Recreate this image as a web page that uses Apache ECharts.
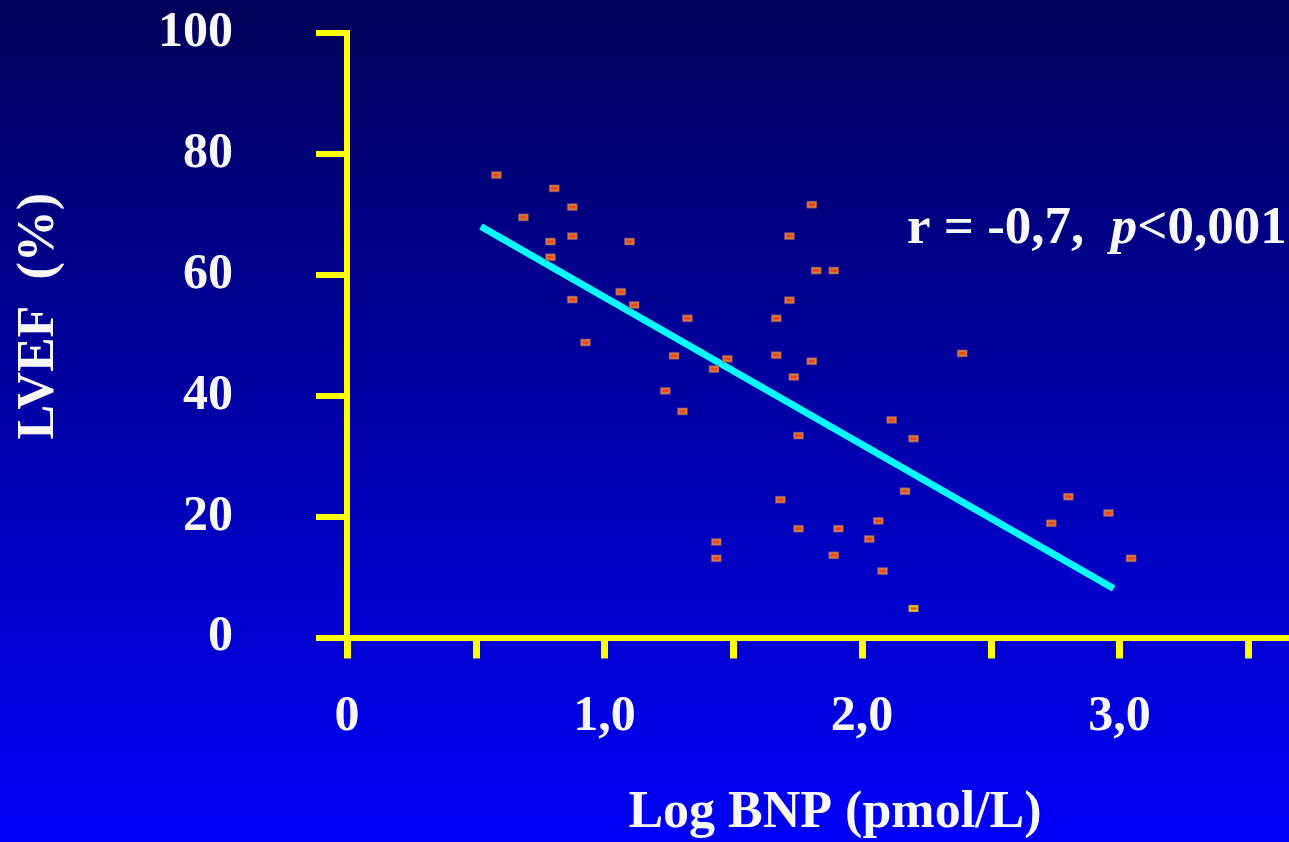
<!DOCTYPE html>
<html>
<head>
<meta charset="utf-8">
<script src="https://cdn.jsdelivr.net/npm/echarts@6/dist/echarts.min.js"></script>
<style>
  html, body { margin: 0; padding: 0; width: 1289px; height: 842px; overflow: hidden; background: #0000a0; }
  #chart { width: 1289px; height: 842px; }
</style>
</head>
<body>
<div id="chart"></div>
<script>
// ---- data ----
const bnpLog = [0.580, 0.805, 0.685, 0.875, 0.790, 0.875, 1.097, 0.790, 1.063, 1.115,
                0.875, 0.926, 1.270, 1.805, 1.718, 1.822, 1.890, 1.718, 1.322, 1.667,
                1.477, 1.425, 1.667, 1.805, 1.735, 2.389, 1.236, 1.303, 2.115, 2.200,
                1.753, 1.683, 2.167, 2.063, 1.753, 1.908, 2.028, 1.434, 1.434, 1.890,
                2.080, 2.200, 2.801, 2.957, 2.735, 3.045];
const lvef = [76.5, 74.3, 69.5, 71.2, 65.5, 66.4, 65.5, 62.9, 57.2, 55.0,
              55.9, 48.8, 46.6, 71.6, 66.4, 60.7, 60.7, 55.8, 52.8, 52.8,
              46.1, 44.4, 46.7, 45.7, 43.1, 47.0, 40.8, 37.4, 36.0, 32.9,
              33.4, 22.8, 24.2, 19.3, 18.0, 18.0, 16.3, 15.8, 13.1, 13.6,
              11.0, 4.8, 23.3, 20.6, 18.9, 13.1];
const fitX = [0.52, 2.977];
const fitY = [68.0, 8.1];
const xTickValues = [0, 0.5, 1.0, 1.5, 2.0, 2.5, 3.0, 3.5];
const xLabelValues = [0, 1, 2, 3];
const xLabelTexts = ['0', '1,0', '2,0', '3,0'];
const yLabelTexts = ['0', '20', '40', '60', '80', '100'];
const xName = 'Log BNP (pmol/L)';
const yName = 'LVEF  (%)';
const statR = 'r = -0,7,  ';
const statP = 'p';
const statRest = '<0,001';
const highlightedPoint = 41;

// ---- chart ----
const FONT = '"Liberation Serif", "Times New Roman", serif';
const YELLOW = '#ffff00';
const chart = echarts.init(document.getElementById('chart'));

const outerData = bnpLog.map((x, i) => {
  const item = { value: [x, lvef[i]] };
  if (i === highlightedPoint) item.itemStyle = { color: YELLOW };
  return item;
});
const innerData = bnpLog.map((x, i) => [x, lvef[i]]);
const fitData = fitX.map((x, i) => [x, fitY[i]]);

chart.setOption({
  animation: false,
  backgroundColor: new echarts.graphic.LinearGradient(0, 0, 0, 1, [
    { offset: 0, color: '#000058' },
    { offset: 1, color: '#0000fa' }
  ]),
  title: {
    left: 907, top: 203, padding: 0,
    text: '{r|' + statR + '}{p|' + statP + '}{r|' + statRest + '}',
    textStyle: {
      rich: {
        r: { fontFamily: FONT, fontWeight: 'bold', fontSize: 53, color: '#f8f8f8' },
        p: { fontFamily: FONT, fontWeight: 'bold', fontStyle: 'italic', fontSize: 53, color: '#f8f8f8' }
      }
    }
  },
  grid: { left: 347, right: 0, top: 33, bottom: 204.5, outerBoundsMode: 'none', containLabel: false },
  xAxis: {
    type: 'value', min: 0, max: 3.658,
    name: xName, nameLocation: 'middle', nameGap: 150,
    nameTextStyle: { fontFamily: FONT, fontWeight: 'bold', fontSize: 52, color: '#f8f8f8', padding: [0, 0, 0, 34] },
    axisLine: { show: true, onZero: false, lineStyle: { color: YELLOW, width: 6 } },
    axisTick: { show: true, customValues: xTickValues, length: 21, lineStyle: { color: YELLOW, width: 7 } },
    axisLabel: {
      customValues: xLabelValues, margin: 55,
      fontFamily: FONT, fontWeight: 'bold', fontSize: 50, color: '#f8f8f8',
      formatter: v => { const i = xLabelValues.indexOf(v); return i >= 0 ? xLabelTexts[i] : ''; }
    },
    splitLine: { show: false }
  },
  yAxis: {
    type: 'value', min: 0, max: 100, interval: 20,
    name: yName, nameLocation: 'middle', nameRotate: 90, nameGap: 281,
    nameTextStyle: { fontFamily: FONT, fontWeight: 'bold', fontSize: 52, color: '#f8f8f8', padding: [0, 0, 0, 38] },
    axisLine: { show: true, onZero: false, lineStyle: { color: YELLOW, width: 6, cap: 'square' } },
    axisTick: { show: true, length: 31, lineStyle: { color: YELLOW, width: 6 } },
    axisLabel: {
      margin: 114, fontFamily: FONT, fontWeight: 'bold', fontSize: 50, color: '#f8f8f8',
      formatter: v => yLabelTexts[Math.round(v / 20)]
    },
    splitLine: { show: false }
  },
  series: [
    {
      type: 'line', data: fitData, symbol: 'none', z: 1, silent: true,
      lineStyle: { color: '#00ffff', width: 7 }
    },
    {
      type: 'scatter', data: outerData, symbol: 'rect', symbolSize: [10, 7], z: 3,
      itemStyle: { color: '#ff9933', borderColor: '#7a3a80', borderWidth: 0.6 }
    },
    {
      type: 'scatter', data: innerData, symbol: 'rect', symbolSize: [6, 2.5], z: 4,
      itemStyle: { color: '#ff3300' }
    }
  ]
});
</script>
</body>
</html>
